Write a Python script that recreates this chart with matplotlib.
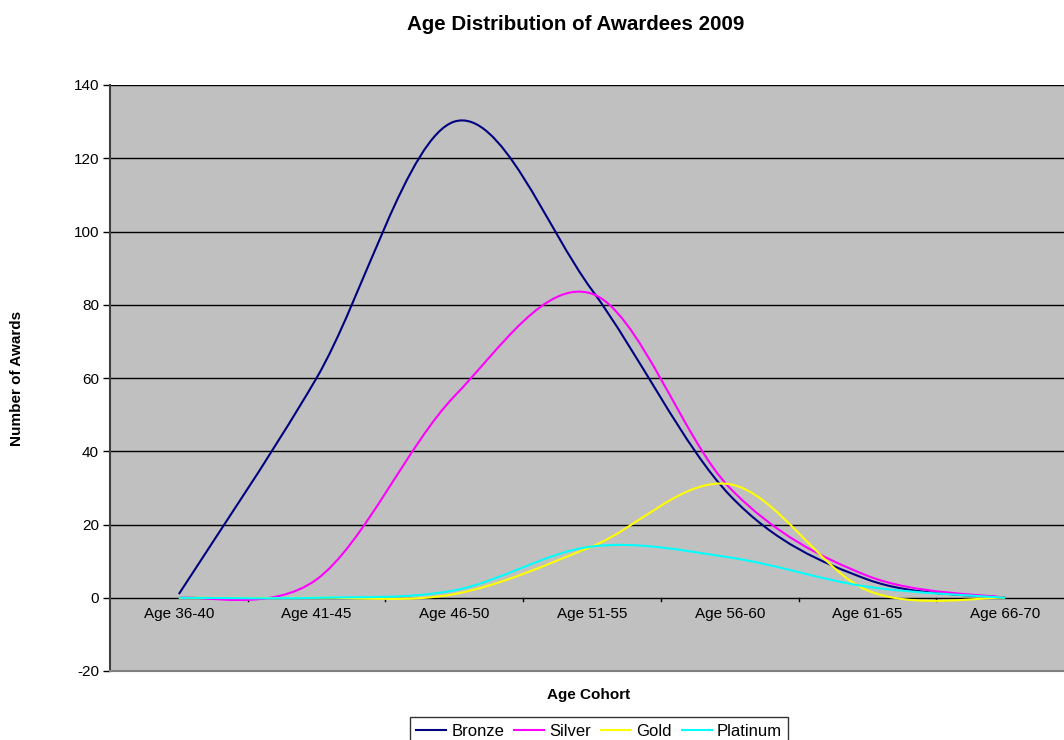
import matplotlib
matplotlib.use("Agg")
import matplotlib.pyplot as plt
from matplotlib.path import Path
from matplotlib.patches import PathPatch
from matplotlib.lines import Line2D

plt.rcParams['font.family'] = ['Liberation Sans', 'DejaVu Sans']

categories = ["Age 36-40", "Age 41-45", "Age 46-50", "Age 51-55", "Age 56-60", "Age 61-65", "Age 66-70"]
bronze = [1, 60, 130, 84, 28, 5, 0]
silver = [0, 5, 55, 83, 30, 6, 0]
gold = [0, 0, 1, 14, 31, 2, 0]
platinum = [0, 0, 2, 14, 11, 3, 0]
series_names = ["Bronze", "Silver", "Gold", "Platinum"]
colors = ["#000080", "#FF00FF", "#FFFF00", "#00FFFF"]
yticks = [-20, 0, 20, 40, 60, 80, 100, 120, 140]

W, H = 1064, 740
fig = plt.figure(figsize=(W / 100, H / 100), dpi=100)
ax = fig.add_axes([110 / W, (H - 671) / H, (1074 - 110) / W, (671 - 85) / H])
ax.set_facecolor("#C0C0C0")
ax.set_xlim(-0.5, len(categories) - 0.5)
ax.set_ylim(-20, 140)


def smooth_path(ys):
    xs = list(range(len(ys)))
    n = len(ys)
    verts = [(xs[0], ys[0])]
    codes = [Path.MOVETO]
    for i in range(n - 1):
        p0 = (xs[max(i - 1, 0)], ys[max(i - 1, 0)])
        p1 = (xs[i], ys[i])
        p2 = (xs[i + 1], ys[i + 1])
        p3 = (xs[min(i + 2, n - 1)], ys[min(i + 2, n - 1)])
        c1 = (p1[0] + (p2[0] - p0[0]) / 6, p1[1] + (p2[1] - p0[1]) / 6)
        c2 = (p2[0] - (p3[0] - p1[0]) / 6, p2[1] - (p3[1] - p1[1]) / 6)
        verts += [c1, c2, p2]
        codes += [Path.CURVE4] * 3
    return Path(verts, codes)


# gridlines
for y in yticks[1:]:
    ax.axhline(y, color="black", lw=1.0, zorder=1)

for vals, c in zip([bronze, silver, gold, platinum], colors):
    patch = PathPatch(smooth_path(vals), facecolor="none", edgecolor=c, lw=1.5, zorder=3)
    ax.add_patch(patch)

# spines
for s in ["top", "right"]:
    ax.spines[s].set_visible(False)
ax.spines["left"].set_color("#404040")
ax.spines["left"].set_linewidth(1.5)
ax.spines["bottom"].set_color("#808080")
ax.spines["bottom"].set_linewidth(1.5)

ax.set_yticks(yticks)
ax.set_yticklabels([str(v) for v in yticks], fontsize=11)
ax.tick_params(axis="y", direction="out", length=5, width=1, color="black", pad=3)

# x category axis at y=0
ax.set_xticks([])
for i in range(len(categories) - 1):
    ax.plot([i + 0.5, i + 0.5], [0, -1.0], color="black", lw=1, zorder=2, clip_on=False)
for i, lab in enumerate(categories):
    ax.text(i, -4.5, lab, ha="center", va="center", fontsize=11)

fig.text(576 / W, 1 - 25 / H, "Age Distribution of Awardees 2009", ha="center", va="center",
         fontsize=14.8, fontweight="bold")
fig.text(589 / W, 1 - 695 / H, "Age Cohort", ha="center", va="center", fontsize=11, fontweight="bold")
fig.text(17 / W, 1 - 378 / H, "Number of Awards", ha="center", va="center", rotation=90,
         fontsize=11, fontweight="bold")

handles = [Line2D([0], [0], color=c, lw=1.5) for c in colors]
leg = fig.legend(handles, series_names, loc="upper center", bbox_to_anchor=(599 / W, 1 - 717 / H),
                 ncol=4, frameon=True, fancybox=False, fontsize=12, handlelength=1.8,
                 handletextpad=0.3, columnspacing=0.6, borderpad=0.4, borderaxespad=0)
leg.get_frame().set_edgecolor("black")
leg.get_frame().set_linewidth(1)

fig.savefig("out.png", dpi=100)
